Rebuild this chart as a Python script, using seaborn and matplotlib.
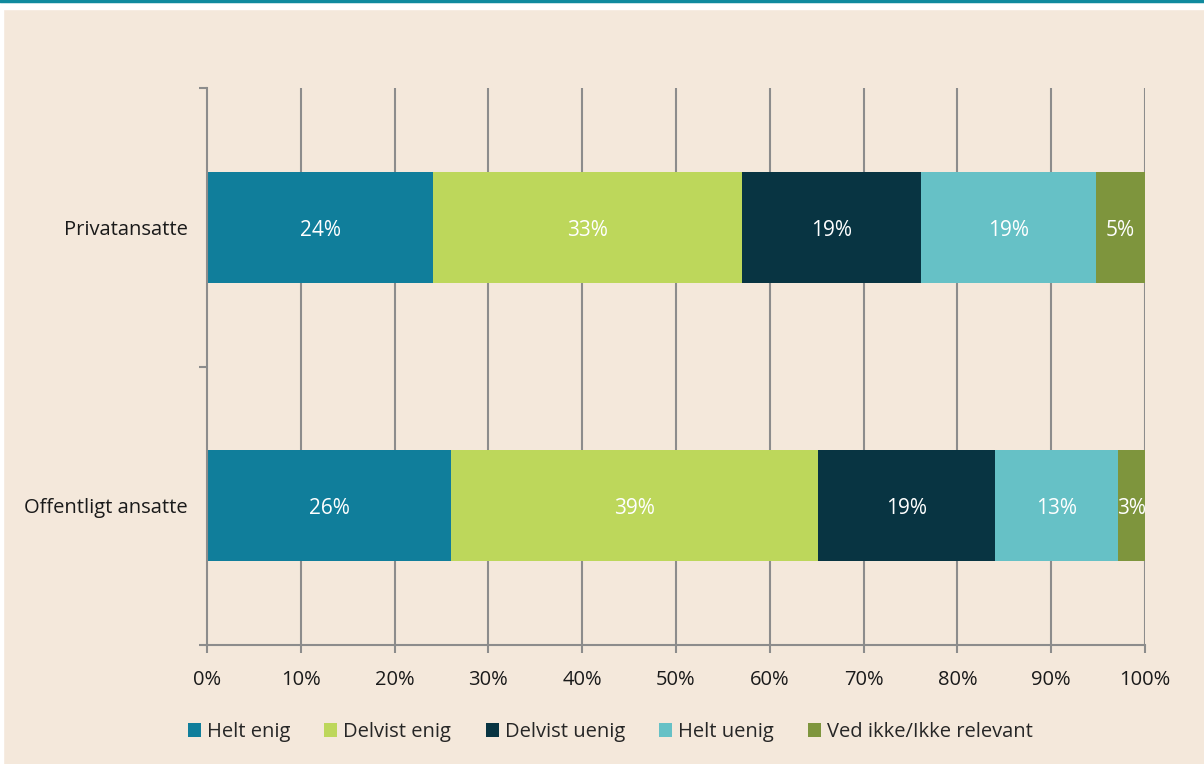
import numpy as np
import matplotlib
matplotlib.use("Agg")
import matplotlib.pyplot as plt
import seaborn as sns
import pandas as pd
from matplotlib.patches import Patch

# Data
groups = ["Privatansatte", "Offentligt ansatte"]
svar = ["Helt enig", "Delvist enig", "Delvist uenig", "Helt uenig", "Ved ikke/Ikke relevant"]
privat = [24.1, 32.9, 19.1, 18.7, 5.2]
offentlig = [26.0, 39.1, 18.9, 13.1, 2.9]
farver = ["#107E9B", "#BDD75B", "#083442", "#66C1C6", "#7E953D"]

bg = "#F4E8DB"

sns.set_theme(style="white")
plt.rcParams["font.family"] = ["Open Sans", "DejaVu Sans"]

df = pd.DataFrame([privat, offentlig], index=groups, columns=svar)
cum = df.cumsum(axis=1)

fig = plt.figure(figsize=(12.04, 7.64), dpi=100)
fig.patch.set_facecolor(bg)
ax = fig.add_axes([207 / 1204, 1 - 645 / 764, 938 / 1204, 557 / 764])
ax.set_facecolor(bg)

# gitterlinjer
for x in range(10, 101, 10):
    ax.axvline(x, color="#8C8C8C", lw=1.5, zorder=0)

# stablede bjælker: tegn største kumulative først
for i in reversed(range(len(svar))):
    plot_df = pd.DataFrame({"gruppe": groups, "verdi": cum[svar[i]].values})
    sns.barplot(data=plot_df, x="verdi", y="gruppe", orient="h", color=farver[i],
                width=0.4, saturation=1, ax=ax, zorder=2, edgecolor="none")

# tekst i bjælkene
for r, g in enumerate(groups):
    start = 0
    for i, s in enumerate(svar):
        v = df.loc[g, s]
        ax.text(start + v / 2, r + 0.01, f"{round(v):.0f}%", ha="center", va="center",
                color="white", fontsize=15, zorder=3)
        start += v

ax.set_xlim(0, 100)
ax.set_ylim(1.5, -0.5)
ax.set_xticks(range(0, 101, 10))
ax.set_xticklabels([f"{x}%" for x in range(0, 101, 10)], fontsize=14.5, color="#1a1a1a")
ax.set_yticks([0, 1])
ax.set_yticklabels(groups, fontsize=14.5, color="#1a1a1a")
ax.set_yticks([-0.5, 0.5, 1.5], minor=True)
ax.set_xlabel("")
ax.set_ylabel("")

for side in ["top", "right"]:
    ax.spines[side].set_visible(False)
for side in ["left", "bottom"]:
    ax.spines[side].set_color("#8C8C8C")
    ax.spines[side].set_linewidth(1.5)

ax.tick_params(axis="x", which="major", bottom=True, length=6, width=1.5, color="#8C8C8C", pad=12)
ax.tick_params(axis="y", which="major", left=False, pad=8)
ax.tick_params(axis="y", which="minor", left=True, length=6, width=1.5, color="#8C8C8C")

# teglinje øverst og hvite kanter
fig.add_artist(plt.Line2D([0, 1], [0.999, 0.999], color="#108A9E", lw=2.5, transform=fig.transFigure))
fig.add_artist(plt.Rectangle((0, 1 - 9 / 764), 1, 8 / 764, color="white", transform=fig.transFigure, zorder=-1))
fig.add_artist(plt.Rectangle((0, 0), 3 / 1204, 1 - 2 / 764, color="white", transform=fig.transFigure, zorder=-1))

handles = [Patch(facecolor=c, edgecolor="none") for c in farver]
fig.legend(handles, svar, loc="center", bbox_to_anchor=(0.507, 1 - 732 / 764), ncol=5,
           frameon=False, fontsize=14.5, handlelength=0.65, handleheight=0.65,
           handletextpad=0.3, columnspacing=1.7)

fig.savefig("out.png", dpi=100, facecolor=bg)
